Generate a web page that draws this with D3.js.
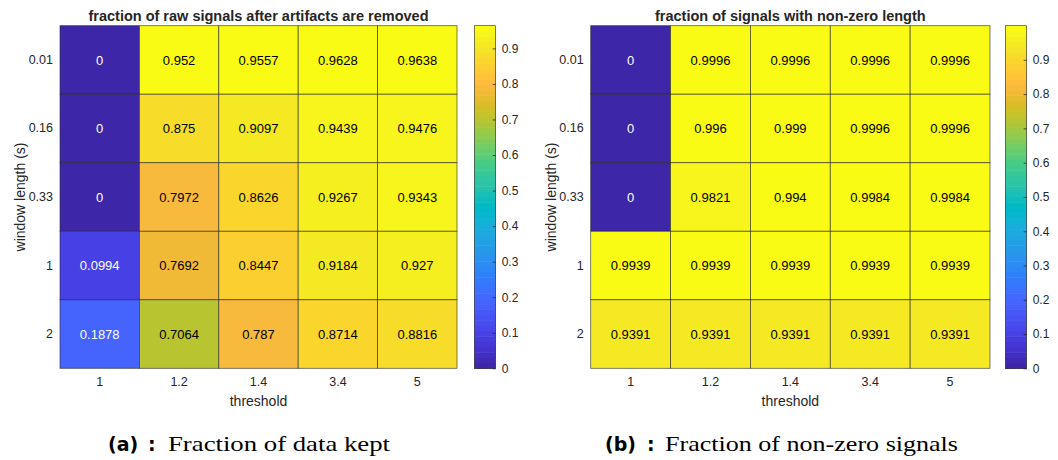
<!DOCTYPE html>
<head>
    <meta charset="utf-8">
    <script src="https://cdn.jsdelivr.net/npm/d3@7"></script>
    <style>
        body { margin: 0; background: #fff; }
    </style>
</head>
<body>
    <div id="chart"></div>
    <script>
        const width = 1058, height = 460;
        const sans = "Liberation Sans, Arial, sans-serif";

        // données
        const thresholds = ["1", "1.2", "1.4", "3.4", "5"];
        const windows = ["0.01", "0.16", "0.33", "1", "2"];

        const keptValues = [
            [0, 0.952, 0.9557, 0.9628, 0.9638],
            [0, 0.875, 0.9097, 0.9439, 0.9476],
            [0, 0.7972, 0.8626, 0.9267, 0.9343],
            [0.0994, 0.7692, 0.8447, 0.9184, 0.927],
            [0.1878, 0.7064, 0.787, 0.8714, 0.8816]
        ];
        const nonZeroValues = [
            [0, 0.9996, 0.9996, 0.9996, 0.9996],
            [0, 0.996, 0.999, 0.9996, 0.9996],
            [0, 0.9821, 0.994, 0.9984, 0.9984],
            [0.9939, 0.9939, 0.9939, 0.9939, 0.9939],
            [0.9391, 0.9391, 0.9391, 0.9391, 0.9391]
        ];
        const colorbarTicks = [0, 0.1, 0.2, 0.3, 0.4, 0.5, 0.6, 0.7, 0.8, 0.9];

        // colormap parula (64 couleurs)
        const parula = [
            [0.2422,0.1504,0.6603],[0.2504,0.1650,0.7076],[0.2578,0.1818,0.7511],[0.2647,0.1978,0.7952],
            [0.2706,0.2147,0.8364],[0.2751,0.2342,0.8710],[0.2783,0.2559,0.8991],[0.2803,0.2782,0.9221],
            [0.2813,0.3006,0.9414],[0.2810,0.3228,0.9579],[0.2795,0.3447,0.9717],[0.2760,0.3667,0.9829],
            [0.2699,0.3892,0.9906],[0.2602,0.4123,0.9952],[0.2440,0.4358,0.9988],[0.2206,0.4603,0.9973],
            [0.1963,0.4847,0.9892],[0.1834,0.5074,0.9798],[0.1786,0.5289,0.9682],[0.1764,0.5499,0.9520],
            [0.1687,0.5703,0.9359],[0.1540,0.5902,0.9218],[0.1460,0.6091,0.9079],[0.1380,0.6276,0.8973],
            [0.1248,0.6459,0.8883],[0.1113,0.6635,0.8763],[0.0952,0.6798,0.8598],[0.0689,0.6948,0.8394],
            [0.0297,0.7082,0.8163],[0.0036,0.7203,0.7917],[0.0067,0.7312,0.7660],[0.0433,0.7411,0.7394],
            [0.0964,0.7500,0.7120],[0.1408,0.7584,0.6842],[0.1717,0.7670,0.6554],[0.1938,0.7758,0.6251],
            [0.2161,0.7843,0.5923],[0.2470,0.7918,0.5567],[0.2906,0.7973,0.5188],[0.3406,0.8008,0.4789],
            [0.3909,0.8029,0.4354],[0.4456,0.8024,0.3909],[0.5044,0.7993,0.3480],[0.5616,0.7942,0.3045],
            [0.6174,0.7876,0.2612],[0.6720,0.7793,0.2227],[0.7242,0.7698,0.1910],[0.7738,0.7598,0.1646],
            [0.8203,0.7498,0.1535],[0.8634,0.7406,0.1596],[0.9035,0.7330,0.1774],[0.9393,0.7288,0.2100],
            [0.9728,0.7298,0.2394],[0.9956,0.7434,0.2371],[0.9970,0.7659,0.2199],[0.9952,0.7893,0.2028],
            [0.9892,0.8136,0.1885],[0.9786,0.8386,0.1766],[0.9676,0.8639,0.1643],[0.9610,0.8890,0.1537],
            [0.9597,0.9135,0.1423],[0.9628,0.9373,0.1265],[0.9691,0.9606,0.1064],[0.9769,0.9839,0.0805]
        ];
        const parulaColors = parula.map(c => d3.rgb(c[0] * 255, c[1] * 255, c[2] * 255).formatHex());

        const svg = d3.select("#chart").append("svg")
            .attr("width", width)
            .attr("height", height);

        function heatmap(opt) {
            const values = opt.values;
            const vmax = d3.max(values.flat());

            const x = d3.scaleBand().domain(thresholds).range([opt.x0, opt.x1]);
            const y = d3.scaleBand().domain(windows).range([opt.y0, opt.y1]);
            const color = d3.scaleQuantize().domain([0, vmax]).range(parulaColors);

            const g = svg.append("g").style("font-family", sans);

            const cells = [];
            windows.forEach((w, i) => thresholds.forEach((t, j) => cells.push({ w: w, t: t, v: values[i][j] })));

            g.selectAll("rect.cell")
                .data(cells)
                .join("rect")
                .attr("class", "cell")
                .attr("x", d => x(d.t))
                .attr("y", d => y(d.w))
                .attr("width", x.bandwidth())
                .attr("height", y.bandwidth())
                .attr("fill", d => color(d.v))
                .attr("stroke", "rgba(40,40,40,0.75)")
                .attr("stroke-width", 0.8);

            g.selectAll("text.val")
                .data(cells)
                .join("text")
                .attr("class", "val")
                .attr("x", d => x(d.t) + x.bandwidth() / 2)
                .attr("y", d => y(d.w) + y.bandwidth() / 2)
                .attr("dy", "0.35em")
                .attr("text-anchor", "middle")
                .style("font-size", "13px")
                .attr("fill", d => {
                    const c = d3.rgb(color(d.v));
                    const lum = (0.2126 * c.r + 0.7152 * c.g + 0.0722 * c.b) / 255;
                    return lum < 0.5 ? "#fff" : "#000";
                })
                .text(d => d.v);

            // axes
            const xAxis = g.append("g")
                .attr("transform", `translate(0,${opt.y1})`)
                .call(d3.axisBottom(x).tickSize(0).tickPadding(9));
            const yAxis = g.append("g")
                .attr("transform", `translate(${opt.x0},0)`)
                .call(d3.axisLeft(y).tickSize(0).tickPadding(7));
            [xAxis, yAxis].forEach(a => {
                a.select(".domain").remove();
                a.style("font-family", sans);
                a.selectAll("text")
                    .style("font-size", "12.5px")
                    .attr("fill", "#262626");
            });

            g.append("text")
                .attr("x", (opt.x0 + opt.x1) / 2)
                .attr("y", 406)
                .attr("text-anchor", "middle")
                .style("font-size", "14px")
                .attr("fill", "#262626")
                .text("threshold");

            g.append("text")
                .attr("transform", `translate(${opt.x0 - 35},${(opt.y0 + opt.y1) / 2}) rotate(-90)`)
                .attr("text-anchor", "middle")
                .style("font-size", "14px")
                .attr("fill", "#262626")
                .text("window length (s)");

            g.append("text")
                .attr("x", (opt.x0 + opt.x1) / 2)
                .attr("y", 21)
                .attr("text-anchor", "middle")
                .style("font-size", "14.5px")
                .style("font-weight", "bold")
                .attr("fill", "#262626")
                .text(opt.title);

            // colorbar
            const cy = d3.scaleLinear().domain([0, vmax]).range([opt.y1, opt.y0]);
            const cb = svg.append("g");
            const step = vmax / parulaColors.length;
            cb.selectAll("rect")
                .data(parulaColors)
                .join("rect")
                .attr("x", opt.cbx)
                .attr("y", (c, i) => cy((i + 1) * step))
                .attr("width", opt.cbw)
                .attr("height", (c, i) => cy(i * step) - cy((i + 1) * step) + 0.5)
                .attr("fill", c => c);
            cb.append("rect")
                .attr("x", opt.cbx)
                .attr("y", opt.y0)
                .attr("width", opt.cbw)
                .attr("height", opt.y1 - opt.y0)
                .attr("fill", "none")
                .attr("stroke", "#262626")
                .attr("stroke-width", 0.6);
            const cAxis = cb.append("g")
                .attr("transform", `translate(${opt.cbx + opt.cbw},0)`)
                .call(d3.axisRight(cy).tickValues(colorbarTicks).tickSize(0).tickPadding(6).tickFormat(d3.format("")));
            cAxis.select(".domain").remove();
            cAxis.style("font-family", sans);
            cAxis.selectAll("text")
                .style("font-size", "12px")
                .attr("fill", "#262626");
            cAxis.selectAll(".tick").append("line")
                .attr("x1", -3)
                .attr("x2", 0)
                .attr("stroke", "#262626")
                .attr("stroke-width", 0.8);

            // légende de sous-figure
            const cap = svg.append("g");
            cap.append("text")
                .attr("x", opt.capX)
                .attr("y", 451)
                .style("font-family", "DejaVu Sans, sans-serif")
                .style("font-weight", "bold")
                .style("font-size", "19px")
                .text(opt.capLetter);
            cap.append("text")
                .attr("x", opt.colonX)
                .attr("y", 451)
                .style("font-family", "DejaVu Sans, sans-serif")
                .style("font-weight", "bold")
                .style("font-size", "19px")
                .text(":");
            cap.append("text")
                .attr("x", opt.textX)
                .attr("y", 451)
                .style("font-family", "Liberation Serif, serif")
                .style("font-size", "21.5px")
                .attr("textLength", opt.textW)
                .attr("lengthAdjust", "spacingAndGlyphs")
                .text(opt.caption);
        }

        heatmap({
            values: keptValues,
            title: "fraction of raw signals after artifacts are removed",
            x0: 60, x1: 457, y0: 25.7, y1: 368.3,
            cbx: 474.3, cbw: 21.4,
            capX: 108, colonX: 148, textX: 168, textW: 222,
            capLetter: "(a)", caption: "Fraction of data kept"
        });

        heatmap({
            values: nonZeroValues,
            title: "fraction of signals with non-zero length",
            x0: 590.7, x1: 990, y0: 25.7, y1: 368.3,
            cbx: 1005.3, cbw: 21.4,
            capX: 605, colonX: 647, textX: 665, textW: 293,
            capLetter: "(b)", caption: "Fraction of non-zero signals"
        });
    </script>
</body>
